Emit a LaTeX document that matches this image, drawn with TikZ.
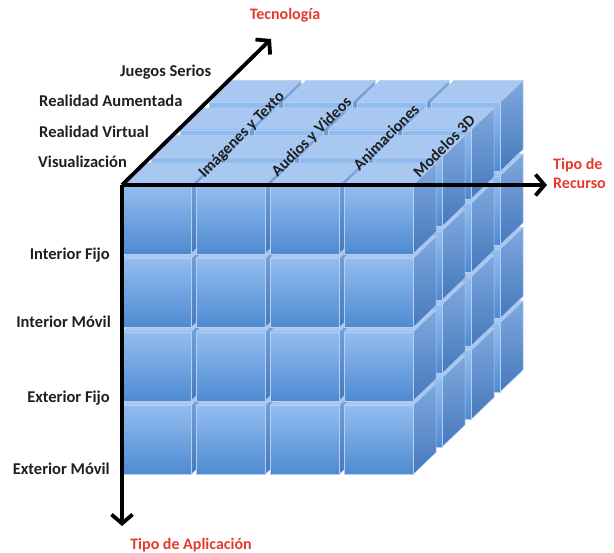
\documentclass[tikz,border=0pt]{standalone}
\usepackage{fontspec}
\setmainfont{Carlito}
\usetikzlibrary{arrows.meta}
\definecolor{frontT}{HTML}{93BDF0}
\definecolor{frontB}{HTML}{4E8AD1}
\definecolor{sideT}{HTML}{7FA9DE}
\definecolor{sideB}{HTML}{4678BC}
\definecolor{topC}{HTML}{A8C8F1}
\definecolor{edgeC}{HTML}{B3CFF2}
\definecolor{axisred}{HTML}{E63A2E}
\tikzset{
  axis/.style={line width=3.8pt, -{Straight Barb[length=9pt,width=21pt,line width=3.8pt]}},
  lbl/.style={font=\bfseries\fontsize{16.5}{18}\selectfont, text=black!88, inner sep=0pt},
  redlbl/.style={font=\bfseries\fontsize{16}{19}\selectfont, text=axisred, inner sep=0pt, align=left},
  toplbl/.style={font=\bfseries\fontsize{16}{18}\selectfont, text=black!88, inner sep=0pt, rotate=45},
  facefront/.style={top color=frontT, bottom color=frontB, draw=edgeC, line width=0.5pt},
  faceside/.style={top color=sideT, bottom color=sideB, draw=edgeC, line width=0.5pt},
  facetop/.style={fill=topC, draw=edgeC, line width=0.5pt},
}
\begin{document}
\begin{tikzpicture}[x=1pt,y=-1pt]
\useasboundingbox (0,0) rectangle (614,553);
% cubes: back layers first, bottom rows first, left columns first
\foreach \k in {3,2,1,0}{
  \foreach \r in {3,2,1,0}{
    \foreach \c in {0,1,2,3}{
      \pgfmathsetmacro{\xa}{122+\c*74+\k*29}
      \pgfmathsetmacro{\ya}{185+\r*73.5-\k*27.5}
      \pgfmathsetmacro{\xb}{\xa+69}
      \pgfmathsetmacro{\yb}{\ya+69}
      \pgfmathsetmacro{\xc}{\xa+23}
      \pgfmathsetmacro{\xd}{\xb+23}
      \pgfmathsetmacro{\yc}{\ya-22}
      \pgfmathsetmacro{\yd}{\yb-22}
      \path[facetop] (\xa,\ya) -- (\xc,\yc) -- (\xd,\yc) -- (\xb,\ya) -- cycle;
      \path[faceside] (\xb,\ya) -- (\xd,\yc) -- (\xd,\yd) -- (\xb,\yb) -- cycle;
      \path[facefront] (\xa,\ya) rectangle (\xb,\yb);
    }
  }
}
% axes
\coordinate (O) at (122,185);
\coordinate (tecEnd) at (271,39);
\coordinate (recEnd) at (547,185);
\coordinate (aplEnd) at (122,526);
\draw[axis] (O) -- (tecEnd);
\draw[axis] (O) -- (recEnd);
\draw[axis] (O) -- (aplEnd);
% axis titles
\node[redlbl] (tec) at (285,15) {Tecnología};
\node[redlbl, anchor=west] (rec) at (553,173) {Tipo de\\Recurso};
\node[redlbl] (apl) at (191,545) {Tipo de Aplicación};
% technology labels
\node[lbl, anchor=west] (t4) at (120,72) {Juegos Serios};
\node[lbl, anchor=west] (t3) at (39,101) {Realidad Aumentada};
\node[lbl, anchor=west] (t2) at (39,132) {Realidad Virtual};
\node[lbl, anchor=west] (t1) at (38,162) {Visualización};
% application labels
\node[lbl, anchor=east] (a1) at (110,255) {Interior Fijo};
\node[lbl, anchor=east] (a2) at (111,322) {Interior Móvil};
\node[lbl, anchor=east] (a3) at (110,398) {Exterior Fijo};
\node[lbl, anchor=east] (a4) at (110,469) {Exterior Móvil};
% resource labels
\node[toplbl] (r1) at (242,135) {Imágenes y Texto};
\node[toplbl] (r2) at (312,137) {Audios y Videos};
\node[toplbl] (r3) at (386,137) {Animaciones};
\node[toplbl] (r4) at (444,146) {Modelos 3D};
\end{tikzpicture}
\end{document}
